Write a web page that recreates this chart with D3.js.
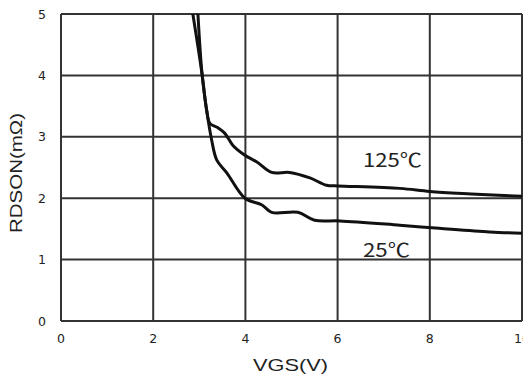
<!DOCTYPE html>
<html>
<head>
<meta charset="utf-8">
<script src="https://cdn.jsdelivr.net/npm/d3@7"></script>
<style>
  html, body { margin: 0; padding: 0; background: #fff; }
  svg { display: block; }
</style>
</head>
<body>
<svg id="chart" width="523" height="381"></svg>
<script>
// RDSON vs VGS at two junction temperatures
const xTicks = [0, 2, 4, 6, 8, 10];
const yTicks = [0, 1, 2, 3, 4, 5];

const vgs125 = [2.86, 3.06, 3.16, 3.23, 3.40, 3.55, 3.73, 3.99, 4.25, 4.57, 4.96, 5.40, 5.76, 6.00, 7.35, 8.00, 8.90, 10.0];
const rds125 = [5.00, 4.02, 3.43, 3.22, 3.15, 3.06, 2.86, 2.70, 2.59, 2.42, 2.42, 2.33, 2.21, 2.20, 2.16, 2.11, 2.07, 2.03];

const vgs25 = [2.97, 3.06, 3.16, 3.27, 3.38, 3.60, 3.99, 4.36, 4.57, 5.14, 5.50, 6.05, 7.35, 8.20, 9.30, 10.0];
const rds25 = [5.00, 4.02, 3.43, 2.94, 2.62, 2.41, 2.00, 1.89, 1.77, 1.77, 1.64, 1.63, 1.56, 1.51, 1.45, 1.43];

const seriesLabels = ["125℃", "25℃"];
const labelPos = [[6.55, 2.51], [6.55, 1.04]];

const svg = d3.select("#chart");
const plotLeft = 61, plotRight = 522, plotTop = 14, plotBottom = 321;

const x = d3.scaleLinear().domain([0, 10]).range([plotLeft, plotRight]);
const y = d3.scaleLinear().domain([0, 5]).range([plotBottom, plotTop]);

const gridColor = "#333";
const textColor = "#222";

// grid (vertical + horizontal), including frame
svg.append("g").selectAll("line").data(xTicks).join("line")
  .attr("x1", d => x(d)).attr("x2", d => x(d))
  .attr("y1", plotTop).attr("y2", plotBottom)
  .attr("stroke", gridColor).attr("stroke-width", 2);
svg.append("g").selectAll("line").data(yTicks).join("line")
  .attr("x1", plotLeft).attr("x2", plotRight)
  .attr("y1", d => y(d)).attr("y2", d => y(d))
  .attr("stroke", gridColor).attr("stroke-width", 2);

// tick labels
svg.append("g").selectAll("text").data(yTicks).join("text")
  .attr("x", 46).attr("y", d => y(d) + 4.5)
  .attr("text-anchor", "end")
  .attr("font-family", "DejaVu Sans, sans-serif").attr("font-size", 12.5)
  .attr("fill", textColor)
  .text(d => d);
svg.append("g").selectAll("text").data(xTicks).join("text")
  .attr("x", d => x(d)).attr("y", 343)
  .attr("text-anchor", "middle")
  .attr("font-family", "DejaVu Sans, sans-serif").attr("font-size", 12.5)
  .attr("fill", textColor)
  .text(d => d);

// axis titles
svg.append("text")
  .attr("x", 290.5).attr("y", 371)
  .attr("text-anchor", "middle")
  .attr("font-family", "Liberation Sans, Arial, sans-serif").attr("font-size", 17)
  .attr("textLength", 75).attr("lengthAdjust", "spacingAndGlyphs")
  .attr("fill", textColor)
  .text("VGS(V)");
svg.append("text")
  .attr("transform", "translate(22,173) rotate(-90)")
  .attr("text-anchor", "middle")
  .attr("font-family", "Liberation Sans, Arial, sans-serif").attr("font-size", 17)
  .attr("textLength", 120).attr("lengthAdjust", "spacingAndGlyphs")
  .attr("fill", textColor)
  .text("RDSON(mΩ)");

// curves, clipped to plot area
svg.append("clipPath").attr("id", "plotClip")
  .append("rect").attr("x", plotLeft).attr("y", plotTop)
  .attr("width", plotRight - plotLeft).attr("height", plotBottom - plotTop);

const line = d3.line()
  .x(d => x(d[0])).y(d => y(d[1]))
  .curve(d3.curveCatmullRom.alpha(0.5));

const series = [d3.zip(vgs125, rds125), d3.zip(vgs25, rds25)];
svg.append("g").attr("clip-path", "url(#plotClip)")
  .selectAll("path").data(series).join("path")
  .attr("d", line)
  .attr("fill", "none")
  .attr("stroke", "#111")
  .attr("stroke-width", 3)
  .attr("stroke-linejoin", "round");

// series labels
svg.append("g").selectAll("text").data(seriesLabels).join("text")
  .attr("x", (d, i) => x(labelPos[i][0]))
  .attr("y", (d, i) => y(labelPos[i][1]))
  .attr("font-family", "Noto Sans CJK SC, sans-serif").attr("font-size", 19)
  .attr("textLength", (d, i) => i === 0 ? 59 : 47).attr("lengthAdjust", "spacingAndGlyphs")
  .attr("fill", textColor)
  .text(d => d);
</script>
</body>
</html>
